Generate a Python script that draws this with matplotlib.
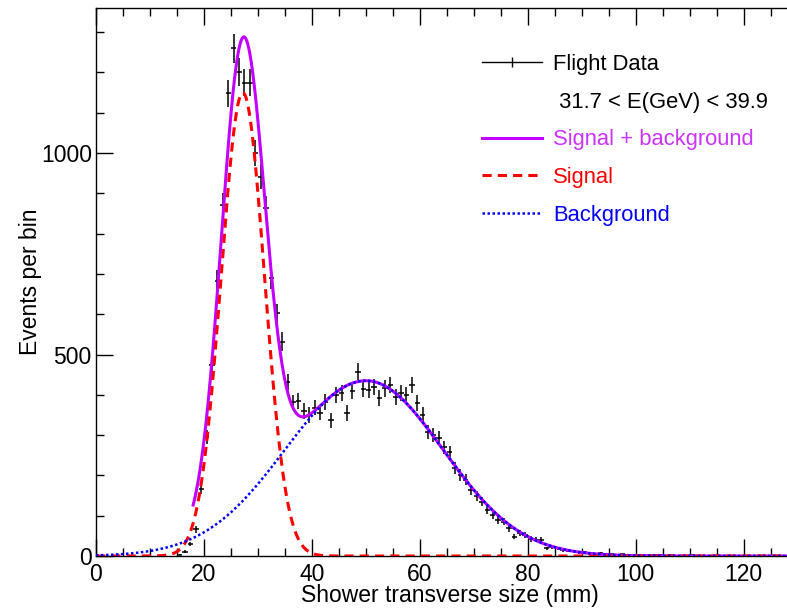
import numpy as np
import matplotlib
matplotlib.use("Agg")
import matplotlib.pyplot as plt
from matplotlib.lines import Line2D
from matplotlib.ticker import MultipleLocator

plt.rcParams['font.family'] = ['Liberation Sans', 'DejaVu Sans']

# binned flight data, 1 mm bins (bin centres in mm, counts per bin)
bin_centres = np.arange(15.5, 112.0, 1.0)
counts = np.array([
    3, 11, 30, 66, 166, 296, 474, 683, 871, 1148,          # 15.5 - 24.5
    1260, 1202, 1175, 1175, 1000, 941, 864, 690, 602, 532,  # 25.5 - 34.5
    432, 381, 385, 360, 350, 368, 356, 383, 337, 400,       # 35.5 - 44.5
    404, 355, 410, 457, 414, 412, 420, 391, 416, 424,       # 45.5 - 54.5
    395, 404, 400, 424, 379, 350, 308, 300, 294, 270,       # 55.5 - 64.5
    258, 218, 201, 189, 164, 149, 135, 114, 102, 89,        # 65.5 - 74.5
    85, 69, 48, 56, 52, 42, 40, 40, 19, 23,                 # 75.5 - 84.5
    19, 15, 13, 12, 9, 10, 7, 6, 8, 4,                      # 85.5 - 94.5
    5, 3, 4, 3, 2, 3, 1, 2, 2, 3,                           # 95.5 - 104.5
    1, 2, 1, 1, 1, 2, 1,                                    # 105.5 - 111.5
])

# fit results: gaussian signal + asymmetric gaussian background
signal_pars = [1150.0, 27.2, 4.0]            # amplitude, mean, sigma
background_pars = [435.0, 50.0, 15.0, 14.3]  # amplitude, mean, sigma left, sigma right
fit_range = [18.0, 128.0]

legend_labels = ['Flight Data', ' 31.7 < E(GeV) < 39.9',
                 'Signal + background', 'Signal', 'Background']

violet = '#c300ff'
violet_text = '#cc33ff'


def signal(x):
    a, m, s = signal_pars
    return a * np.exp(-0.5 * ((x - m) / s) ** 2)


def background(x):
    a, m, sl, sr = background_pars
    s = np.where(x < m, sl, sr)
    return a * np.exp(-0.5 * ((x - m) / s) ** 2)


fig = plt.figure(figsize=(7.87, 6.09), dpi=100)
ax = fig.add_axes([96 / 787, 53 / 609, 691 / 787, 548 / 609])

ax.errorbar(bin_centres, counts, xerr=0.5, yerr=np.sqrt(counts), fmt='none',
            ecolor='black', elinewidth=1.1, capsize=0, zorder=2)

xs = np.linspace(0, 128, 1200)
xf = np.linspace(fit_range[0], fit_range[1], 1200)
ax.plot(xf, signal(xf) + background(xf), color=violet, lw=2.2, zorder=3)
ax.plot(xs, signal(xs), color='red', lw=2.2, dashes=(3, 2), zorder=4)
ax.plot(xs, background(xs), color='blue', lw=1.8, dashes=(1, 1), zorder=5)

ax.set_xlim(0, 128)
ax.set_ylim(0, 1360)
ax.xaxis.set_major_locator(MultipleLocator(20))
ax.xaxis.set_minor_locator(MultipleLocator(5))
ax.yaxis.set_major_locator(MultipleLocator(500))
ax.yaxis.set_minor_locator(MultipleLocator(100))
ax.tick_params(which='both', direction='in', top=True, right=False, width=1.0,
               labelsize=16.5, colors='black')
ax.tick_params(which='major', length=12)
ax.tick_params(which='minor', length=5.5)
ax.tick_params(axis='x', pad=5)
ax.tick_params(axis='y', pad=3)
ax.spines['right'].set_visible(False)
for side in ['left', 'top', 'bottom']:
    ax.spines[side].set_linewidth(1.0)

ax.set_xlabel('Shower transverse size (mm)', fontsize=16.5)
ax.set_ylabel('Events per bin', fontsize=16.5)
ax.xaxis.set_label_coords(0.512, -0.051)
ax.yaxis.set_label_coords(-0.078, 0.5)

handles = [
    Line2D([], [], color='black', lw=1.0, marker='|', markersize=7, markeredgewidth=1.0),
    Line2D([], [], color='none'),
    Line2D([], [], color=violet, lw=2.2),
    Line2D([], [], color='red', lw=2.2, dashes=(3, 2)),
    Line2D([], [], color='blue', lw=1.8, dashes=(1, 1)),
]
ax.legend(handles, legend_labels, loc='upper left',
          bbox_to_anchor=(482 / 787, 1 - 54 / 609), bbox_transform=fig.transFigure,
          frameon=False, fontsize=15.8, handlelength=2.75, handletextpad=0.5,
          labelspacing=0.76, borderpad=0, borderaxespad=0,
          labelcolor=['black', 'black', violet_text, 'red', 'blue'])

fig.savefig('out.png', dpi=100)
